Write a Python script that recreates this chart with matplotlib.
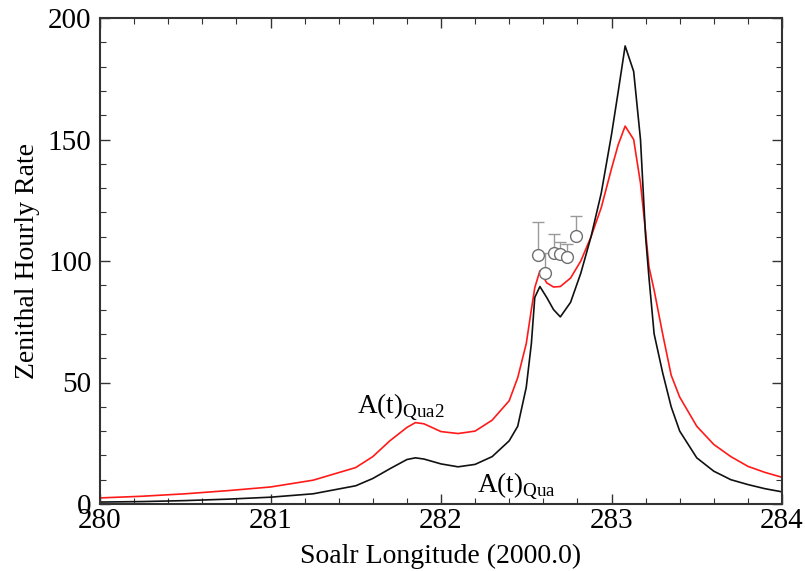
import matplotlib.pyplot as plt
from matplotlib.ticker import MultipleLocator

plt.rcParams['font.family'] = ['Liberation Serif', 'DejaVu Serif']
plt.rcParams['mathtext.fontset'] = 'custom'
plt.rcParams['mathtext.rm'] = 'Liberation Serif'

# solar longitude grid shared by both model curves
lon = [280.0, 280.25, 280.5, 280.75, 281.0, 281.25, 281.5, 281.6, 281.7, 281.8,
       281.85, 281.9, 282.0, 282.1, 282.2, 282.3, 282.4, 282.45, 282.5, 282.53,
       282.55, 282.58, 282.62, 282.66, 282.7, 282.76, 282.82, 282.88, 282.94,
       283.0, 283.04, 283.08, 283.13, 283.17, 283.2, 283.22, 283.25, 283.3,
       283.35, 283.4, 283.5, 283.6, 283.7, 283.8, 283.9, 284.0]

# A(t)Qua2 (red)
zhr_qua2 = [2.5, 3.2, 4.2, 5.5, 7.0, 9.8, 15.0, 19.5, 26.0, 31.5,
            33.5, 33.0, 29.8, 29.0, 30.0, 34.5, 42.5, 52.0, 66.0, 80.0,
            89.0, 96.0, 91.0, 89.3, 89.5, 93.0, 100.0, 110.0, 122.0,
            138.0, 148.0, 155.5, 150.0, 132.0, 112.0, 97.5, 88.0, 70.0,
            53.0, 44.0, 32.0, 24.5, 19.5, 15.5, 13.0, 11.0]

# A(t)Qua (black)
zhr_qua = [0.8, 1.0, 1.4, 2.0, 2.8, 4.2, 7.5, 10.5, 14.5, 18.3,
           19.0, 18.5, 16.5, 15.3, 16.3, 19.5, 26.0, 32.0, 48.0, 66.0,
           85.0, 89.5, 85.0, 80.0, 77.0, 83.0, 95.0, 110.0, 128.0,
           152.0, 170.0, 188.5, 178.0, 150.0, 110.0, 93.0, 70.0, 54.0,
           40.0, 30.0, 19.0, 13.5, 10.0, 8.0, 6.3, 5.0]

# observations
obs_lon = [282.57, 282.61, 282.66, 282.70, 282.74, 282.79]
obs_zhr = [102.5, 95.2, 103.2, 102.7, 101.8, 110.3]
obs_err = [13.7, 8.0, 8.0, 5.0, 5.0, 8.3]

fig = plt.figure(figsize=(8.05, 5.71), dpi=100)
ax = fig.add_axes([100 / 805, 1 - 504 / 571, 682 / 805, 486 / 571])

ax.plot(lon, zhr_qua2, color='#ff1a1a', lw=1.2)
ax.plot(lon, zhr_qua, color='#111111', lw=1.2)

ax.errorbar(obs_lon, obs_zhr, yerr=[[0] * len(obs_err), obs_err], fmt='none',
            ecolor='#9a9a9a', elinewidth=1.0, capsize=4, capthick=1.0, zorder=3)
ax.plot(obs_lon, obs_zhr, 'o', ms=8.5, mfc='white', mec='#707070', mew=1.0, zorder=4)

ax.text(281.507, 37.4, r'A(t)$_{\mathrm{Qua2}}$', fontsize=19.5, va='baseline', ha='left')
ax.text(282.211, 4.9, r'A(t)$_{\mathrm{Qua}}$', fontsize=19.5, va='baseline', ha='left')

ax.set_xlim(280, 284)
ax.set_ylim(0, 200)
ax.xaxis.set_major_locator(MultipleLocator(1))
ax.xaxis.set_minor_locator(MultipleLocator(0.2))
ax.yaxis.set_major_locator(MultipleLocator(50))
ax.yaxis.set_minor_locator(MultipleLocator(10))
ax.tick_params(which='both', direction='in', top=True, right=True,
               colors='#333333', labelcolor='black', labelsize=21)
ax.tick_params(which='major', length=7, width=1.0)
ax.tick_params(which='minor', length=4, width=0.8)
ax.tick_params(axis='x', pad=3)
ax.tick_params(axis='y', pad=6)
for sp in ax.spines.values():
    sp.set_color('#333333')
    sp.set_linewidth(1.5)

ax.set_xlabel('Soalr Longitude (2000.0)', fontsize=20, labelpad=7)
ax.set_ylabel('Zenithal Hourly Rate', fontsize=20, labelpad=6)

fig.savefig('out.png', dpi=100)
